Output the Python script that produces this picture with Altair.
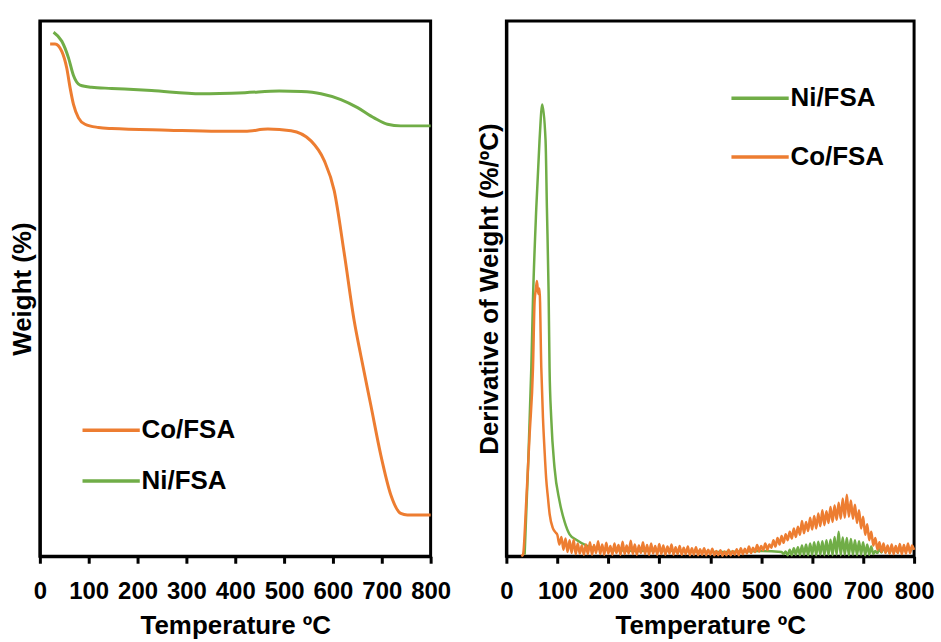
import altair as alt
import pandas as pd

ORANGE = "#ED7D31"
GREEN = "#70AD47"
FONT = "Liberation Sans"

# ---------------- TGA (left) ----------------
ni_tga_T = [28, 45, 58.6, 68.8, 82.3, 106, 147, 228.6, 330.6, 420, 490, 535, 575.5, 616.3, 650.4, 684.3, 711.6, 738.8, 800]
ni_tga_w = [97.9, 96.2, 93.1, 89.8, 88.0, 87.6, 87.4, 87.0, 86.4, 86.6, 86.9, 86.8, 86.4, 85.3, 83.8, 81.9, 80.7, 80.4, 80.4]

co_tga_T = [21, 31.2, 44.9, 55, 61.9, 68.8, 79, 92.4, 119.8, 147, 262.7, 364.7, 420, 466.7, 514.3, 555.1, 582.2,
            602.6, 623.1, 643.5, 657.1, 677.6, 698, 718.4, 738.8, 752.4, 800]
co_tga_w = [95.7, 95.7, 94.3, 91.2, 87.5, 84.4, 81.9, 80.7, 80.1, 79.9, 79.6, 79.4, 79.4, 79.8, 79.5, 77.6, 73.9,
            68.3, 56.6, 44.0, 37.5, 28.2, 18.9, 11.5, 8.0, 7.7, 7.7]

# ---------------- DTG (right) ----------------
ni_peak_T = [35.8, 42.4, 48.9, 52.2, 58.7, 65, 70.4, 76.9, 79.5, 82.8, 84.7, 88, 94.5, 104.3, 114, 124, 137, 160, 180,
             220, 260, 300, 340, 380, 420, 460, 500, 540]
ni_peak_v = [0.003, 0.165, 0.352, 0.48, 0.651, 0.776, 0.844, 0.776, 0.651, 0.495, 0.352, 0.258, 0.165, 0.103, 0.065,
             0.041, 0.031, 0.019, 0.014, 0.011, 0.010, 0.011, 0.010, 0.009, 0.008, 0.009, 0.010, 0.008]
# Ni/FSA noisy region, every 4 degC from 544
ni_noise_start = 544
ni_noise_v = [0.004, 0.009, 0.002, 0.012, 0.002, 0.015, 0.003, 0.017, 0.002, 0.020, 0.003, 0.022, 0.002, 0.024,
              0.003, 0.026, 0.002, 0.027, 0.003, 0.028, 0.002, 0.030, 0.003, 0.031, 0.002, 0.036, 0.003, 0.046,
              0.002, 0.035, 0.003, 0.034, 0.002, 0.032, 0.003, 0.030, 0.002, 0.028, 0.003, 0.026, 0.002, 0.022,
              0.003, 0.018, 0.004, 0.010, 0.006, 0.013, 0.007, 0.016, 0.008, 0.014, 0.006, 0.017, 0.008, 0.015,
              0.007, 0.018, 0.009, 0.016, 0.010, 0.015, 0.012, 0.014]

co_peak_T = [29.3, 32.6, 39, 45.6, 52.2, 55.4, 58, 60, 62.5, 65, 68.5, 71.8, 75, 78, 81.6, 85, 91, 96]
co_peak_v = [0.0, 0.003, 0.103, 0.227, 0.352, 0.477, 0.50, 0.514, 0.49, 0.50, 0.352, 0.258, 0.196, 0.146, 0.109,
             0.078, 0.053, 0.045]
# Co/FSA noisy region, every 4 degC from 100
co_noise_start = 100
co_noise_v = [0.040, 0.022, 0.036, 0.012, 0.033, 0.008, 0.030, 0.006, 0.031, 0.004, 0.024, 0.005, 0.020, 0.003,
              0.022, 0.004, 0.026, 0.003, 0.021, 0.006, 0.028, 0.004, 0.022, 0.003, 0.025, 0.005, 0.019, 0.003,
              0.024, 0.006, 0.021, 0.003, 0.027, 0.004, 0.020, 0.005, 0.029, 0.004, 0.022, 0.003, 0.020, 0.006,
              0.026, 0.004, 0.021, 0.003, 0.024, 0.005, 0.019, 0.003, 0.023, 0.004, 0.020, 0.003, 0.018, 0.005,
              0.022, 0.003, 0.017, 0.004, 0.019, 0.003, 0.016, 0.004, 0.018, 0.002, 0.015, 0.003, 0.017, 0.002,
              0.013, 0.003, 0.015, 0.002, 0.012, 0.003, 0.014, 0.002, 0.010, 0.002, 0.011, 0.001, 0.009, 0.002,
              0.012, 0.002, 0.010, 0.003, 0.013, 0.002, 0.015, 0.004, 0.014, 0.005, 0.018, 0.006, 0.016, 0.008,
              0.021, 0.009, 0.019, 0.011, 0.024, 0.012, 0.022, 0.016, 0.030, 0.018, 0.034, 0.022, 0.038, 0.025,
              0.041, 0.030, 0.046, 0.033, 0.052, 0.036, 0.055, 0.040, 0.066, 0.043, 0.064, 0.047, 0.072, 0.050,
              0.075, 0.052, 0.080, 0.056, 0.086, 0.058, 0.084, 0.062, 0.092, 0.064, 0.095, 0.068, 0.100, 0.070,
              0.108, 0.072, 0.115, 0.074, 0.104, 0.070, 0.096, 0.062, 0.086, 0.052, 0.074, 0.040, 0.060, 0.030,
              0.046, 0.020, 0.034, 0.012, 0.026, 0.008, 0.024, 0.006, 0.020, 0.005, 0.022, 0.004, 0.019, 0.006,
              0.023, 0.004, 0.021, 0.005, 0.024, 0.006, 0.020, 0.012]

x_ticks = [0, 100, 200, 300, 400, 500, 600, 700, 800]

# ---------------- tables ----------------
tga_ni = pd.DataFrame({"T": ni_tga_T, "v": ni_tga_w, "series": "Ni/FSA"})
tga_co = pd.DataFrame({"T": co_tga_T, "v": co_tga_w, "series": "Co/FSA"})

ni_T = ni_peak_T + [ni_noise_start + 4 * i for i in range(len(ni_noise_v))]
co_T = co_peak_T + [co_noise_start + 4 * i for i in range(len(co_noise_v))]
dtg_ni = pd.DataFrame({"T": ni_T, "v": ni_peak_v + ni_noise_v, "series": "Ni/FSA"})
dtg_co = pd.DataFrame({"T": co_T, "v": co_peak_v + co_noise_v, "series": "Co/FSA"})

x_axis = alt.Axis(values=x_ticks, title="Temperature ºC", grid=False, labelFlush=False,
                  tickSize=7, tickWidth=3, tickColor="black", domainColor="black", domainWidth=3,
                  labelPadding=16, titlePadding=9)


def x_enc():
    return alt.X("T:Q", scale=alt.Scale(domain=[0, 800], nice=False, zero=False), axis=x_axis)


def y_enc(domain, title):
    return alt.Y("v:Q", scale=alt.Scale(domain=domain, nice=False, zero=False),
                 axis=alt.Axis(title=title, labels=False, ticks=False, grid=False,
                               domainColor="black", domainWidth=3, titlePadding=4))


def color_enc(domain, rng, lx, ly, row_pad):
    return alt.Color("series:N", scale=alt.Scale(domain=domain, range=rng),
                     legend=alt.Legend(title=None, orient="none", legendX=lx, legendY=ly,
                                       symbolType="stroke", symbolSize=3300, symbolStrokeWidth=3.5,
                                       labelFontSize=26, labelFont=FONT, labelFontWeight="bold",
                                       labelColor="black", rowPadding=row_pad, labelOffset=0,
                                       padding=0))


left_color = color_enc(["Co/FSA", "Ni/FSA"], [ORANGE, GREEN], 41, 380, 7)
right_color = color_enc(["Ni/FSA", "Co/FSA"], [GREEN, ORANGE], 224, 47, 15)

left = alt.layer(
    alt.Chart(tga_ni).mark_line(strokeWidth=3, interpolate="monotone").encode(
        x=x_enc(), y=y_enc([0, 100], "Weight (%)"), color=left_color),
    alt.Chart(tga_co).mark_line(strokeWidth=3, interpolate="monotone").encode(
        x=x_enc(), y=y_enc([0, 100], "Weight (%)"), color=left_color),
).properties(width=392, height=537)

right = alt.layer(
    alt.Chart(dtg_ni).mark_line(strokeWidth=2.5, interpolate="monotone").encode(
        x=x_enc(), y=y_enc([0, 1], "Derivative of Weight (%/ºC)"), color=right_color),
    alt.Chart(dtg_co).mark_line(strokeWidth=2.5, interpolate="monotone").encode(
        x=x_enc(), y=y_enc([0, 1], "Derivative of Weight (%/ºC)"), color=right_color),
).properties(width=409, height=537)

chart = alt.hconcat(left, right, spacing=22).resolve_scale(color="independent").properties(
    padding={"left": 8, "top": 18, "right": 5, "bottom": 0}, background="white"
).configure_view(stroke="black", strokeWidth=3).configure_axis(
    labelFont=FONT, labelFontSize=24, labelFontWeight="bold", labelColor="black",
    titleFont=FONT, titleFontSize=26, titleFontWeight="bold", titleColor="black"
)

chart.save("out.html", embed_options={"renderer": "svg", "actions": False})
